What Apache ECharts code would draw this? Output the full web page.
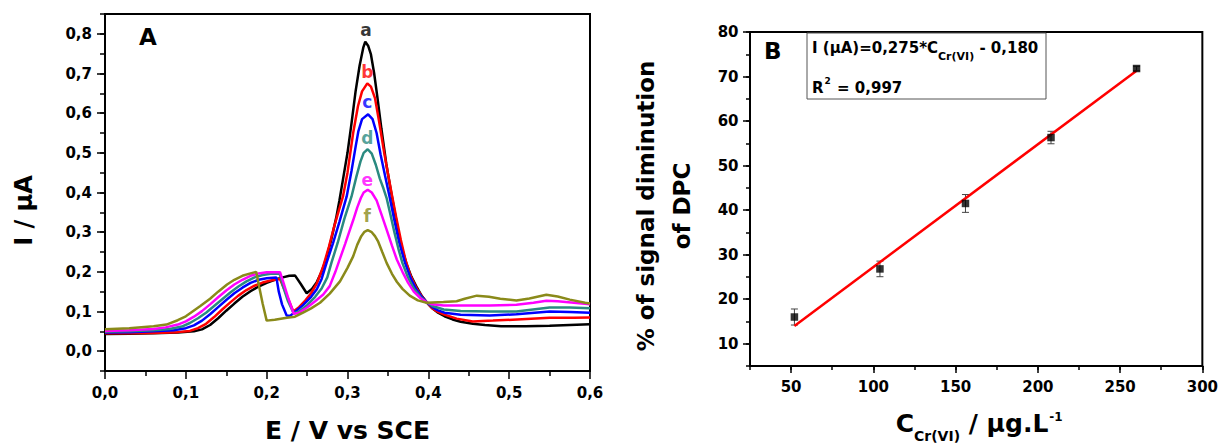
<!DOCTYPE html>
<html>
<head>
<meta charset="utf-8">
<script src="https://cdn.jsdelivr.net/npm/echarts@6/dist/echarts.min.js"></script>
<style>html,body{margin:0;padding:0;background:#fff}#c{width:1221px;height:448px}</style>
</head>
<body>
<div id="c"></div>
<script>
// ---------- Panel A : DPV curves (E / V vs SCE, I / µA) ----------
const curveA = [[0.000,0.043],[0.030,0.044],[0.060,0.045],[0.090,0.047],[0.110,0.050],[0.120,0.055],[0.130,0.066],[0.140,0.083],[0.150,0.102],[0.160,0.120],[0.170,0.137],[0.180,0.151],[0.190,0.163],[0.200,0.172],[0.210,0.180],[0.220,0.186],[0.228,0.190],[0.235,0.191],[0.242,0.170],[0.2495,0.146],[0.256,0.157],[0.262,0.174],[0.268,0.200],[0.274,0.236],[0.280,0.282],[0.286,0.336],[0.290,0.380],[0.295,0.440],[0.300,0.500],[0.305,0.575],[0.310,0.655],[0.315,0.720],[0.3195,0.765],[0.322,0.780],[0.3255,0.770],[0.329,0.748],[0.333,0.700],[0.337,0.640],[0.342,0.560],[0.348,0.472],[0.353,0.412],[0.358,0.355],[0.363,0.300],[0.368,0.255],[0.373,0.220],[0.379,0.188],[0.386,0.160],[0.392,0.139],[0.398,0.123],[0.405,0.108],[0.412,0.097],[0.420,0.088],[0.430,0.080],[0.440,0.074],[0.455,0.069],[0.470,0.066],[0.490,0.063],[0.520,0.063],[0.550,0.064],[0.575,0.066],[0.600,0.068]];
const curveB = [[0.000,0.045],[0.030,0.045],[0.060,0.046],[0.090,0.048],[0.105,0.051],[0.115,0.058],[0.125,0.069],[0.135,0.086],[0.145,0.105],[0.155,0.123],[0.165,0.140],[0.175,0.154],[0.185,0.165],[0.195,0.173],[0.205,0.178],[0.2165,0.182],[0.225,0.140],[0.233,0.100],[0.240,0.111],[0.248,0.128],[0.255,0.146],[0.262,0.170],[0.270,0.214],[0.277,0.263],[0.284,0.318],[0.2944,0.390],[0.300,0.450],[0.307,0.550],[0.313,0.618],[0.318,0.655],[0.3245,0.675],[0.329,0.667],[0.334,0.638],[0.339,0.580],[0.345,0.505],[0.350,0.448],[0.355,0.393],[0.360,0.340],[0.366,0.280],[0.372,0.228],[0.378,0.190],[0.385,0.160],[0.392,0.138],[0.398,0.123],[0.405,0.108],[0.412,0.099],[0.420,0.092],[0.435,0.082],[0.455,0.075],[0.480,0.077],[0.510,0.080],[0.550,0.084],[0.580,0.084],[0.600,0.085]];
const curveC = [[0.000,0.047],[0.030,0.048],[0.060,0.050],[0.085,0.053],[0.100,0.058],[0.110,0.065],[0.120,0.077],[0.130,0.093],[0.140,0.111],[0.150,0.129],[0.160,0.146],[0.170,0.160],[0.180,0.172],[0.190,0.180],[0.200,0.184],[0.212,0.186],[0.215,0.150],[0.219,0.118],[0.2247,0.090],[0.229,0.089],[0.235,0.099],[0.245,0.116],[0.255,0.137],[0.262,0.156],[0.268,0.182],[0.274,0.222],[0.282,0.272],[0.290,0.326],[0.299,0.390],[0.305,0.455],[0.310,0.515],[0.3135,0.555],[0.318,0.585],[0.3255,0.597],[0.331,0.585],[0.336,0.550],[0.341,0.495],[0.347,0.437],[0.352,0.390],[0.358,0.330],[0.364,0.274],[0.371,0.224],[0.378,0.184],[0.385,0.156],[0.392,0.136],[0.398,0.123],[0.405,0.111],[0.412,0.103],[0.420,0.097],[0.440,0.092],[0.476,0.090],[0.509,0.093],[0.550,0.100],[0.575,0.099],[0.600,0.097]];
const curveD = [[0.000,0.049],[0.030,0.050],[0.060,0.053],[0.080,0.056],[0.095,0.062],[0.105,0.071],[0.115,0.083],[0.125,0.097],[0.135,0.114],[0.145,0.131],[0.155,0.148],[0.165,0.163],[0.175,0.176],[0.185,0.186],[0.195,0.192],[0.205,0.195],[0.216,0.196],[0.220,0.165],[0.226,0.128],[0.2335,0.095],[0.240,0.100],[0.250,0.116],[0.260,0.137],[0.268,0.158],[0.275,0.186],[0.280,0.222],[0.288,0.274],[0.296,0.333],[0.305,0.390],[0.311,0.440],[0.316,0.478],[0.320,0.500],[0.325,0.509],[0.330,0.498],[0.335,0.470],[0.340,0.435],[0.3445,0.410],[0.3485,0.385],[0.353,0.345],[0.358,0.300],[0.363,0.258],[0.368,0.222],[0.375,0.185],[0.382,0.158],[0.390,0.137],[0.398,0.123],[0.405,0.114],[0.419,0.105],[0.440,0.101],[0.476,0.100],[0.509,0.100],[0.550,0.110],[0.575,0.110],[0.600,0.108]];
const curveE = [[0.000,0.051],[0.030,0.053],[0.060,0.056],[0.075,0.060],[0.090,0.067],[0.100,0.075],[0.110,0.087],[0.120,0.101],[0.130,0.118],[0.140,0.136],[0.150,0.153],[0.160,0.168],[0.170,0.180],[0.180,0.190],[0.190,0.196],[0.200,0.199],[0.2165,0.199],[0.220,0.178],[0.226,0.138],[0.2335,0.094],[0.240,0.097],[0.250,0.110],[0.260,0.126],[0.270,0.143],[0.278,0.164],[0.285,0.200],[0.291,0.235],[0.297,0.270],[0.302,0.300],[0.307,0.330],[0.312,0.362],[0.3165,0.386],[0.320,0.400],[0.325,0.407],[0.330,0.400],[0.336,0.380],[0.342,0.345],[0.3485,0.306],[0.355,0.266],[0.361,0.231],[0.368,0.200],[0.375,0.172],[0.382,0.150],[0.390,0.134],[0.398,0.123],[0.405,0.118],[0.419,0.115],[0.450,0.115],[0.476,0.115],[0.509,0.117],[0.530,0.122],[0.546,0.127],[0.560,0.126],[0.580,0.122],[0.600,0.118]];
const curveF = [[0.000,0.055],[0.030,0.058],[0.060,0.063],[0.076,0.067],[0.090,0.078],[0.100,0.088],[0.1175,0.113],[0.130,0.132],[0.140,0.150],[0.151,0.168],[0.160,0.180],[0.170,0.190],[0.180,0.196],[0.187,0.200],[0.191,0.160],[0.195,0.120],[0.200,0.077],[0.210,0.079],[0.225,0.084],[0.235,0.087],[0.245,0.097],[0.255,0.108],[0.266,0.122],[0.278,0.145],[0.2907,0.176],[0.300,0.210],[0.307,0.239],[0.312,0.268],[0.317,0.290],[0.321,0.301],[0.325,0.305],[0.330,0.300],[0.334,0.290],[0.338,0.276],[0.343,0.250],[0.3485,0.222],[0.355,0.195],[0.361,0.175],[0.368,0.157],[0.377,0.140],[0.387,0.128],[0.398,0.122],[0.4186,0.124],[0.435,0.126],[0.445,0.132],[0.460,0.140],[0.475,0.137],[0.489,0.132],[0.509,0.128],[0.525,0.133],[0.546,0.142],[0.560,0.138],[0.575,0.130],[0.594,0.122],[0.600,0.120]];
const curveLabels = ['a','b','c','d','e','f'];
const curveColors = ['#000000','#ff0000','#0000ff','#2a8a80','#ff00ff','#8a8a1a'];
const labelE = [0.323,0.3245,0.3245,0.3245,0.3245,0.3245];
const labelI = [0.810,0.703,0.627,0.537,0.432,0.340];
const yTicksA = [0,0.1,0.2,0.3,0.4,0.5,0.6,0.7,0.8];

// ---------- Panel B : calibration ----------
const conc = [52,104,156,208,260];
const signal = [16.0,26.8,41.5,56.3,71.8];
const signalErr = [1.8,1.75,2.0,1.4,0.5];
const fitConc = [52,260];
const fitSignal = [14.0,71.3];
const xTicksB = [50,100,150,200,250,300];
const yTicksB = [10,20,30,40,50,60,70,80];

const FONT = 'DejaVu Sans';
const comma = v => (Math.round(v * 10) / 10).toFixed(1).replace('.', ',');
const curves = [curveA, curveB, curveC, curveD, curveE, curveF];

const lineAx = {show: true, onZero: false, lineStyle: {color: '#000', width: 2}};
const lab = (extra) => Object.assign({fontSize: 15, fontWeight: 'bold', color: '#000', fontFamily: FONT}, extra);
const tick = (len) => ({show: true, length: len, lineStyle: {color: '#000', width: 1.5}});

const chart = echarts.init(document.getElementById('c'), null, {renderer: 'svg'});

const series = [];
curves.forEach((c, i) => {
  series.push({
    type: 'line', name: curveLabels[i], xAxisIndex: 0, yAxisIndex: 0,
    data: c, showSymbol: false, symbol: 'none', smooth: false,
    lineStyle: {color: curveColors[i], width: 2.5}, itemStyle: {color: curveColors[i]},
    z: 2 + i
  });
});
series.push({
  type: 'scatter', xAxisIndex: 0, yAxisIndex: 0, symbolSize: 1,
  itemStyle: {color: 'rgba(0,0,0,0)'}, z: 20,
  data: curveLabels.map((n, i) => ({
    name: n, value: [labelE[i], labelI[i]],
    label: {show: true, position: 'inside', formatter: n, color: curveColors[i],
      fontSize: 17, fontWeight: 'bold', fontFamily: FONT}
  }))
});
series.push({
  type: 'custom', xAxisIndex: 1, yAxisIndex: 2, z: 5,
  encode: {x: 0, y: [1, 2]},
  data: conc.map((x, i) => [x, signal[i] - signalErr[i], signal[i] + signalErr[i]]),
  renderItem: function (params, api) {
    const lo = api.coord([api.value(0), api.value(1)]);
    const hi = api.coord([api.value(0), api.value(2)]);
    const w = 3.5;
    const st = {stroke: '#444', lineWidth: 1};
    return {type: 'group', children: [
      {type: 'line', shape: {x1: lo[0], y1: lo[1], x2: hi[0], y2: hi[1]}, style: st},
      {type: 'line', shape: {x1: lo[0] - w, y1: lo[1], x2: lo[0] + w, y2: lo[1]}, style: st},
      {type: 'line', shape: {x1: hi[0] - w, y1: hi[1], x2: hi[0] + w, y2: hi[1]}, style: st}
    ]};
  }
});
series.push({
  type: 'line', xAxisIndex: 1, yAxisIndex: 2, z: 6,
  data: fitConc.map((x, i) => [x, fitSignal[i]]),
  showSymbol: false, symbol: 'none',
  lineStyle: {color: '#ff0000', width: 2.5}
});
series.push({
  type: 'scatter', xAxisIndex: 1, yAxisIndex: 2, z: 7,
  symbol: 'rect', symbolSize: 7.5,
  itemStyle: {color: '#000'},
  data: conc.map((x, i) => [x, signal[i]])
});

const option = {
  animation: false,
  backgroundColor: '#ffffff',
  textStyle: {fontFamily: FONT},
  grid: [
    {left: 105, top: 14, width: 485, height: 357, show: true, borderColor: '#000', borderWidth: 2},
    {left: 750, top: 32, width: 457, height: 338, show: true, borderColor: '#000', borderWidth: 2}
  ],
  title: [
    {text: 'A', left: 139, top: 25, padding: 0, textStyle: {fontSize: 23, fontWeight: 'bold', color: '#000', fontFamily: FONT, lineHeight: 24}},
    {text: 'B', left: 764, top: 39, padding: 0, textStyle: {fontSize: 23, fontWeight: 'bold', color: '#000', fontFamily: FONT, lineHeight: 24}},
    {text: '{m|I (µA)=0,275*C}{s|Cr(VI)}{m| - 0,180}', left: 812, top: 34.5, padding: 0,
      textStyle: {fontFamily: FONT, rich: {
        m: {fontSize: 15, fontWeight: 'bold', color: '#000', fontFamily: FONT, lineHeight: 27},
        s: {fontSize: 11, fontWeight: 'bold', color: '#000', fontFamily: FONT, lineHeight: 11, padding: [16, 0, 0, 0]}
      }}},
    {text: '{m|R}{p|2}{m| = 0,997}', left: 812, top: 74.5, padding: 0,
      textStyle: {fontFamily: FONT, rich: {
        m: {fontSize: 15, fontWeight: 'bold', color: '#000', fontFamily: FONT, lineHeight: 27},
        p: {fontSize: 9, fontWeight: 'bold', color: '#000', fontFamily: FONT, lineHeight: 9, padding: [0, 1, 14, 1]}
      }}}
  ],
  graphic: [
    {type: 'rect', z: 50, shape: {x: 807, y: 33, width: 239, height: 66},
      style: {fill: 'rgba(0,0,0,0)', stroke: '#555', lineWidth: 1}}
  ],
  xAxis: [
    {type: 'value', gridIndex: 0, min: 0, max: 0.6, interval: 0.1,
      axisLine: lineAx, axisTick: tick(8),
      minorTick: {show: true, splitNumber: 2, length: 5, lineStyle: {color: '#000', width: 1.5}},
      axisLabel: lab({margin: 14, formatter: comma, showMinLabel: true, showMaxLabel: true}),
      splitLine: {show: false}, minorSplitLine: {show: false},
      name: 'E / V vs SCE', nameLocation: 'middle', nameGap: 46,
      nameTextStyle: {fontSize: 25, fontWeight: 'bold', color: '#000', fontFamily: FONT, lineHeight: 26}},
    {type: 'value', gridIndex: 1, min: 25, max: 300,
      axisLine: lineAx,
      axisTick: Object.assign(tick(7), {customValues: xTicksB}),
      axisLabel: lab({margin: 13, customValues: xTicksB, formatter: v => String(v)}),
      splitLine: {show: false},
      name: '{m|C}{s|Cr(VI)}{m| / µg.L}{p|-1}', nameLocation: 'middle', nameGap: 37.5,
      nameTextStyle: {fontFamily: FONT, padding: [0, 0, 0, 6], rich: {
        m: {fontSize: 25, fontWeight: 'bold', color: '#000', fontFamily: FONT, lineHeight: 40},
        s: {fontSize: 14, fontWeight: 'bold', color: '#000', fontFamily: FONT, lineHeight: 14, padding: [25, 0, 0, 0]},
        p: {fontSize: 12, fontWeight: 'bold', color: '#000', fontFamily: FONT, lineHeight: 12, padding: [0, 0, 13, 1]}
      }}},
    {type: 'value', gridIndex: 1, min: 25, max: 300, interval: 25, position: 'bottom',
      axisLine: {show: false, onZero: false}, axisTick: tick(4), axisLabel: {show: false},
      splitLine: {show: false}}
  ],
  yAxis: [
    {type: 'value', gridIndex: 0, min: -0.05, max: 0.85,
      axisLine: lineAx,
      axisTick: Object.assign(tick(8), {customValues: yTicksA}),
      axisLabel: lab({margin: 13, customValues: yTicksA, formatter: comma}),
      splitLine: {show: false},
      name: 'I / µA', nameLocation: 'middle', nameGap: 69.5, nameRotate: 90,
      nameTextStyle: {fontSize: 24, fontWeight: 'bold', color: '#000', fontFamily: FONT, lineHeight: 24, padding: [0, 36, 0, 0]}},
    {type: 'value', gridIndex: 0, min: -0.05, max: 0.85, interval: 0.05, position: 'left',
      axisLine: {show: false, onZero: false}, axisTick: tick(5), axisLabel: {show: false},
      splitLine: {show: false}},
    {type: 'value', gridIndex: 1, min: 5, max: 80,
      axisLine: lineAx,
      axisTick: Object.assign(tick(7), {customValues: yTicksB}),
      axisLabel: lab({margin: 11.5, customValues: yTicksB, formatter: v => String(v)}),
      splitLine: {show: false},
      name: '% of signal diminution\nof DPC', nameLocation: 'middle', nameGap: 50, nameRotate: 90,
      nameTextStyle: {fontSize: 23, fontWeight: 'bold', color: '#000', fontFamily: FONT, lineHeight: 36, align: 'center', padding: [0, 14, 0, 0]}},
    {type: 'value', gridIndex: 1, min: 5, max: 80, interval: 5, position: 'left',
      axisLine: {show: false, onZero: false}, axisTick: tick(4), axisLabel: {show: false},
      splitLine: {show: false}}
  ],
  series: series
};
chart.setOption(option);
</script>
</body>
</html>
